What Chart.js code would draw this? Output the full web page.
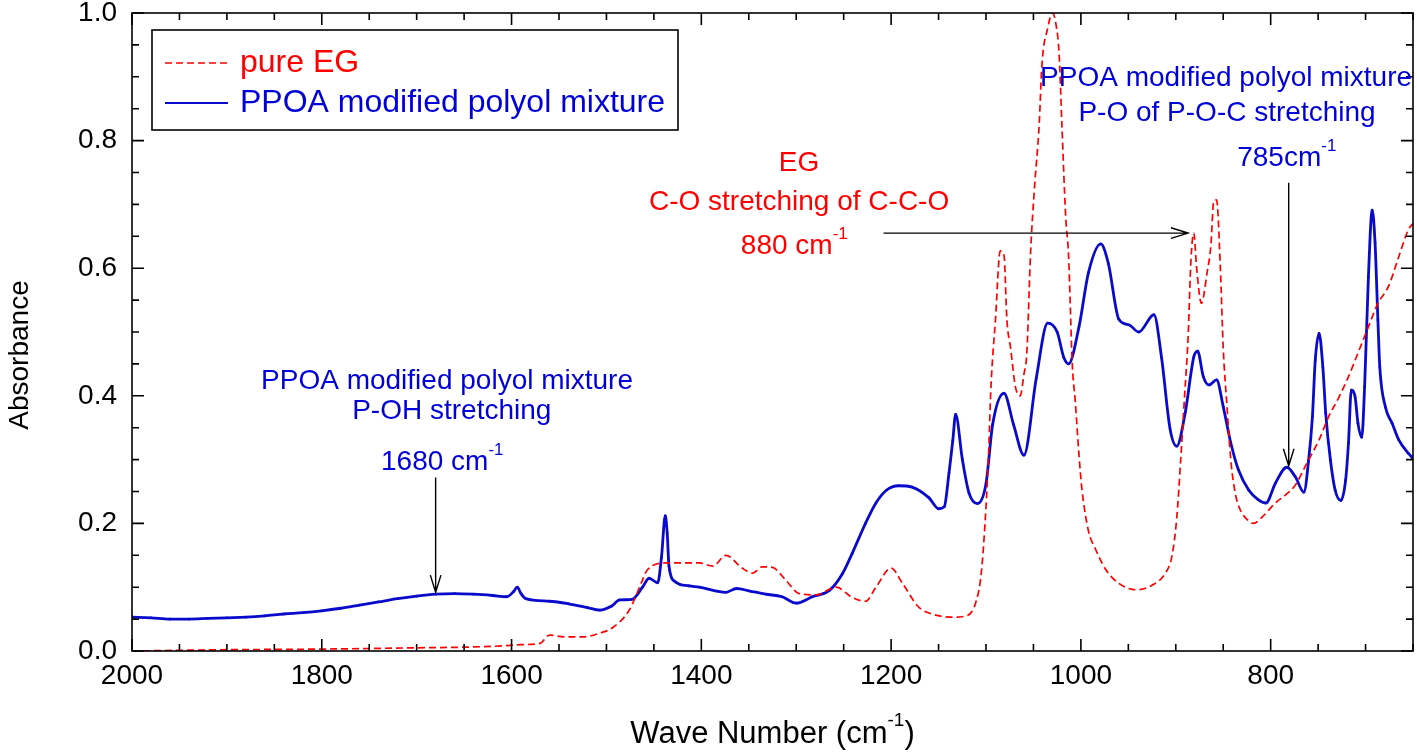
<!DOCTYPE html>
<html lang="en">
<head>
<meta charset="UTF-8">
<title>FTIR absorbance</title>
<script src="https://cdn.jsdelivr.net/npm/chart.js@4.4.1/dist/chart.umd.min.js"></script>
<style>
  html, body { margin: 0; padding: 0; background: #fff; }
  .chart-box { width: 1417px; height: 754px; position: relative; }
</style>
</head>
<body>
<div class="chart-box"><canvas id="ftirChart"></canvas></div>
<script>
// wave numbers (cm-1) and absorbance
const wnRed = [2000, 1900, 1800, 1700, 1650, 1610, 1590, 1570, 1560, 1545, 1525, 1507, 1494, 1476, 1462, 1457,
  1437, 1402, 1388, 1374, 1357, 1346, 1336, 1325, 1311, 1297, 1279, 1258, 1241, 1227, 1216, 1200, 1188, 1171,
  1157, 1136, 1121, 1111, 1105, 1100, 1097, 1095, 1090, 1085, 1081, 1078, 1074, 1069, 1064, 1060, 1057, 1053,
  1049, 1044, 1041, 1035, 1030, 1026, 1023, 1020, 1016, 1013, 1009, 1006, 1002, 999, 992, 985, 974, 960, 942,
  925, 911, 904, 899, 895, 891, 887, 884, 881, 878, 873, 867, 863, 860, 857, 853, 850, 846, 842, 837, 832, 826,
  818, 809, 795, 784, 774, 762, 749, 739, 728, 718, 708, 697, 687, 676, 665, 655, 650];
const absRed = [0.0, 0.002, 0.003, 0.005, 0.006, 0.008, 0.01, 0.012, 0.025, 0.022, 0.022, 0.028, 0.036, 0.064,
  0.111, 0.127, 0.138, 0.138, 0.133, 0.150, 0.130, 0.122, 0.132, 0.131, 0.111, 0.090, 0.088, 0.100, 0.084, 0.078,
  0.100, 0.130, 0.106, 0.069, 0.058, 0.053, 0.055, 0.075, 0.122, 0.226, 0.32, 0.407, 0.52, 0.627, 0.62, 0.52,
  0.474, 0.414, 0.40, 0.434, 0.467, 0.625, 0.724, 0.824, 0.92, 0.976, 1.0, 0.98, 0.937, 0.824, 0.68, 0.62, 0.447,
  0.393, 0.307, 0.255, 0.188, 0.161, 0.128, 0.106, 0.096, 0.103, 0.122, 0.149, 0.208, 0.295, 0.393, 0.493, 0.613,
  0.655, 0.60, 0.545, 0.593, 0.636, 0.705, 0.707, 0.60, 0.475, 0.383, 0.299, 0.245, 0.221, 0.208, 0.200, 0.21,
  0.232, 0.245, 0.26, 0.294, 0.331, 0.367, 0.398, 0.43, 0.467, 0.508, 0.545, 0.571, 0.618, 0.66, 0.67];

const wnBlue = [2000, 1980, 1960, 1940, 1920, 1900, 1880, 1860, 1840, 1820, 1800, 1780, 1760, 1740, 1720, 1700,
  1680, 1660, 1640, 1620, 1605, 1598, 1594, 1590, 1585, 1560, 1540, 1520, 1507, 1495, 1486, 1473, 1462, 1455,
  1446, 1442, 1438, 1436, 1434, 1427, 1413, 1402, 1384, 1374, 1363, 1349, 1332, 1315, 1300, 1283, 1265, 1251,
  1241, 1227, 1216, 1205, 1192, 1178, 1160, 1150, 1144, 1139, 1135, 1132, 1125, 1118, 1109, 1100, 1093, 1081,
  1071, 1060, 1047, 1035, 1025, 1018, 1013, 1002, 992, 979, 971, 960, 949, 939, 923, 915, 906, 899, 890, 881,
  877, 871, 865, 857, 850, 842, 834, 823, 813, 805, 795, 783, 774, 765, 760, 756, 753, 749, 745, 742, 737, 732,
  726, 721, 718, 715, 711, 708, 704, 701, 697, 693, 690, 687, 685, 679, 672, 665, 655, 650];
const absBlue = [0.053, 0.052, 0.050, 0.050, 0.051, 0.052, 0.053, 0.055, 0.058, 0.060, 0.063, 0.067, 0.072,
  0.077, 0.082, 0.086, 0.089, 0.090, 0.089, 0.087, 0.085, 0.093, 0.100, 0.090, 0.082, 0.078, 0.074, 0.068, 0.064,
  0.070, 0.080, 0.081, 0.100, 0.114, 0.107, 0.147, 0.212, 0.185, 0.132, 0.108, 0.102, 0.100, 0.094, 0.092, 0.098,
  0.094, 0.089, 0.085, 0.075, 0.085, 0.095, 0.122, 0.153, 0.200, 0.232, 0.252, 0.259, 0.257, 0.240, 0.223, 0.226,
  0.279, 0.33, 0.371, 0.301, 0.248, 0.231, 0.262, 0.355, 0.404, 0.355, 0.307, 0.428, 0.514, 0.500, 0.46, 0.45,
  0.508, 0.593, 0.638, 0.607, 0.520, 0.511, 0.500, 0.527, 0.46, 0.348, 0.321, 0.374, 0.461, 0.470, 0.43, 0.417,
  0.425, 0.383, 0.326, 0.284, 0.252, 0.237, 0.232, 0.263, 0.288, 0.273, 0.249, 0.299, 0.367, 0.456, 0.498, 0.445,
  0.373, 0.299, 0.252, 0.236, 0.268, 0.326, 0.409, 0.398, 0.357, 0.335, 0.414, 0.586, 0.691, 0.64, 0.519, 0.445,
  0.382, 0.357, 0.331, 0.310, 0.302];

const xTicks = [2000, 1800, 1600, 1400, 1200, 1000, 800];
const yTicks = [0, 0.2, 0.4, 0.6, 0.8, 1.0];

const FONT = '"Liberation Sans", Arial, Helvetica, sans-serif';
const RED = '#ff0000';
const BLUE = '#0000d8';
const LINE_BLUE = '#0a0acc';

const toXY = (xs, ys) => xs.map((v, i) => ({ x: v, y: ys[i] }));

// text with superscript parts: parts = [[text, isSup], ...]
function drawParts(ctx, parts, cx, cy, size, color) {
  const supSize = Math.round(size * 0.62);
  let total = 0;
  parts.forEach(([t, sup]) => {
    ctx.font = `${sup ? supSize : size}px ${FONT}`;
    total += ctx.measureText(t).width;
  });
  let xPos = cx - total / 2;
  ctx.fillStyle = color;
  ctx.textAlign = 'left';
  ctx.textBaseline = 'middle';
  parts.forEach(([t, sup]) => {
    ctx.font = `${sup ? supSize : size}px ${FONT}`;
    ctx.fillText(t, xPos, sup ? cy - size * 0.42 : cy);
    xPos += ctx.measureText(t).width;
  });
}

function drawArrow(ctx, x1, y1, x2, y2) {
  const ang = Math.atan2(y2 - y1, x2 - x1);
  const h = 18, spread = 0.3;
  ctx.beginPath();
  ctx.moveTo(x1, y1);
  ctx.lineTo(x2, y2);
  ctx.moveTo(x2 - h * Math.cos(ang - spread), y2 - h * Math.sin(ang - spread));
  ctx.lineTo(x2, y2);
  ctx.lineTo(x2 - h * Math.cos(ang + spread), y2 - h * Math.sin(ang + spread));
  ctx.stroke();
}

const framePlugin = {
  id: 'framePlugin',
  afterDatasetsDraw(chart) {
    const { ctx, chartArea: a, scales: { x, y } } = chart;
    ctx.save();
    ctx.strokeStyle = '#000';
    ctx.lineWidth = 1.6;
    ctx.strokeRect(a.left, a.top, a.right - a.left, a.bottom - a.top);

    // inward ticks on all four sides
    ctx.beginPath();
    for (let v = 650; v <= 2000; v += 50) {
      const px = x.getPixelForValue(v);
      const len = v % 200 === 0 ? 12 : 7;
      ctx.moveTo(px, a.bottom); ctx.lineTo(px, a.bottom - len);
      ctx.moveTo(px, a.top); ctx.lineTo(px, a.top + len);
    }
    for (let k = 0; k <= 20; k++) {
      const py = y.getPixelForValue(k * 0.05);
      const len = k % 4 === 0 ? 12 : 7;
      ctx.moveTo(a.left, py); ctx.lineTo(a.left + len, py);
      ctx.moveTo(a.right, py); ctx.lineTo(a.right - len, py);
    }
    ctx.stroke();

    // axis titles
    drawParts(ctx, [['Wave Number (cm', false], ['-1', true], [')', false]], (a.left + a.right) / 2, 734, 31, '#000');
    ctx.save();
    ctx.translate(20, (a.top + a.bottom) / 2 + 23);
    ctx.rotate(-Math.PI / 2);
    drawParts(ctx, [['Absorbance', false]], 0, 0, 28, '#000');
    ctx.restore();

    // legend box
    const lx = a.left + 20, ly = a.top + 17, lw = 526, lh = 100;
    ctx.lineWidth = 1.6;
    ctx.strokeStyle = '#000';
    ctx.strokeRect(lx, ly, lw, lh);
    chart.data.datasets.forEach((ds, i) => {
      const rowY = ly + 33 + i * 40;
      ctx.beginPath();
      ctx.strokeStyle = ds.borderColor;
      ctx.lineWidth = i === 0 ? 1.5 : 2;
      ctx.setLineDash(ds.borderDash || []);
      ctx.moveTo(lx + 13, rowY);
      ctx.lineTo(lx + 76, rowY);
      ctx.stroke();
      ctx.setLineDash([]);
      ctx.font = `32px ${FONT}`;
      ctx.fillStyle = i === 0 ? RED : BLUE;
      ctx.textAlign = 'left';
      ctx.textBaseline = 'middle';
      ctx.fillText(ds.label, lx + 88, rowY);
    });

    // annotations, anchored to data coordinates
    const X = v => x.getPixelForValue(v), Y = v => y.getPixelForValue(v);
    ctx.strokeStyle = '#000';
    ctx.lineWidth = 1.4;

    drawParts(ctx, [['PPOA modified polyol mixture', false]], X(1668), Y(0.423), 28, BLUE);
    drawParts(ctx, [['P-OH stretching', false]], X(1663), Y(0.375), 28, BLUE);
    drawParts(ctx, [['1680 cm', false], ['-1', true]], X(1673), Y(0.296), 28, BLUE);
    drawArrow(ctx, X(1680), Y(0.272), X(1680), Y(0.092));

    drawParts(ctx, [['EG', false]], X(1297), Y(0.765), 28, RED);
    drawParts(ctx, [['C-O stretching of C-C-O', false]], X(1297), Y(0.703), 28, RED);
    drawParts(ctx, [['880 cm', false], ['-1', true]], X(1302), Y(0.634), 28, RED);
    drawArrow(ctx, X(1208), Y(0.655), X(887), Y(0.655));

    drawParts(ctx, [['PPOA modified polyol mixture', false]], X(847), Y(0.898), 28, BLUE);
    drawParts(ctx, [['P-O of P-O-C stretching', false]], X(846), Y(0.843), 28, BLUE);
    drawParts(ctx, [['785cm', false], ['-1', true]], X(783), Y(0.773), 28, BLUE);
    drawArrow(ctx, X(781), Y(0.734), X(781), Y(0.290));

    ctx.restore();
  }
};

new Chart(document.getElementById('ftirChart'), {
  type: 'line',
  data: {
    datasets: [
      {
        label: 'pure EG',
        data: toXY(wnRed, absRed),
        borderColor: RED,
        borderWidth: 1.7,
        borderDash: [7, 4],
        pointRadius: 0,
        cubicInterpolationMode: 'monotone'
      },
      {
        label: 'PPOA modified polyol mixture',
        data: toXY(wnBlue, absBlue),
        borderColor: LINE_BLUE,
        borderWidth: 2.8,
        pointRadius: 1.3,
        pointBackgroundColor: LINE_BLUE,
        pointBorderWidth: 0,
        cubicInterpolationMode: 'monotone'
      }
    ]
  },
  options: {
    responsive: true,
    maintainAspectRatio: false,
    animation: false,
    layout: { padding: { top: 13, right: 3, left: 0, bottom: 0 } },
    plugins: { legend: { display: false }, tooltip: { enabled: false } },
    scales: {
      x: {
        type: 'linear',
        reverse: true,
        min: 650,
        max: 2000,
        afterBuildTicks: s => { s.ticks = xTicks.map(v => ({ value: v })); },
        afterFit: s => { s.height = 103; s.paddingLeft = 0; s.paddingRight = 0; },
        border: { display: false },
        grid: { display: false, drawTicks: false },
        ticks: {
          padding: 8,
          color: '#000',
          maxRotation: 0,
          font: { family: FONT, size: 28 },
          callback: v => String(v)
        }
      },
      y: {
        min: 0,
        max: 1,
        afterBuildTicks: s => { s.ticks = yTicks.map(v => ({ value: v })); },
        afterFit: s => { s.width = 132; s.paddingTop = 0; s.paddingBottom = 0; },
        border: { display: false },
        grid: { display: false, drawTicks: false },
        ticks: {
          padding: 15,
          color: '#000',
          font: { family: FONT, size: 28 },
          callback: v => Number(v).toFixed(1)
        }
      }
    }
  },
  plugins: [framePlugin]
});
</script>
</body>
</html>
